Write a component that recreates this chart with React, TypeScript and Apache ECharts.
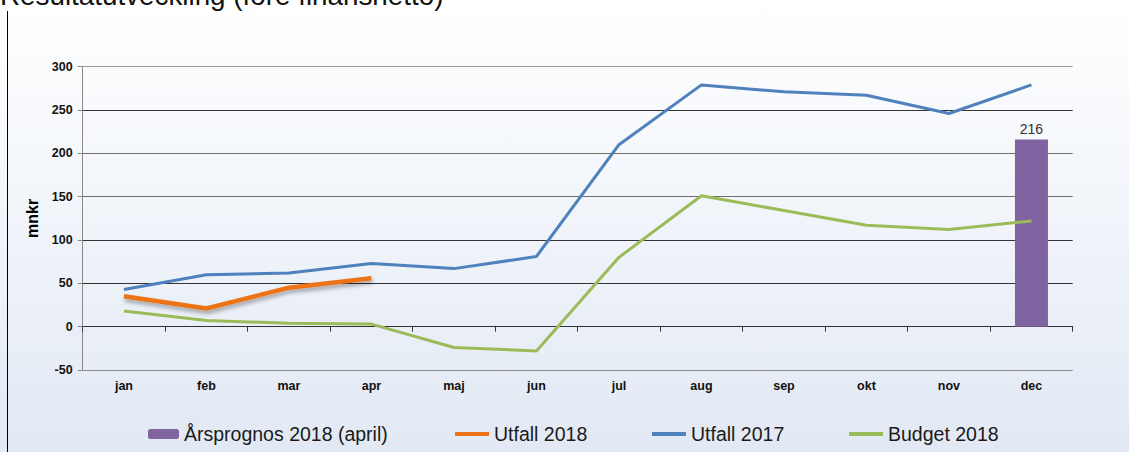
import React, { useEffect, useRef } from "react";
import * as echarts from "echarts";

const categories = ["jan", "feb", "mar", "apr", "maj", "jun", "jul", "aug", "sep", "okt", "nov", "dec"];
const prognos2018 = [null, null, null, null, null, null, null, null, null, null, null, 216];
const utfall2018 = [35, 21, 45, 56, null, null, null, null, null, null, null, null];
const utfall2017 = [43, 60, 62, 73, 67, 81, 210, 279, 271, 267, 246, 279];
const budget2018 = [18, 7, 4, 3, -24, -28, 80, 151, 134, 117, 112, 122];
const yTicks = { min: -50, max: 300, interval: 50 };

const NAMES = ["Årsprognos 2018 (april)", "Utfall 2018", "Utfall 2017", "Budget 2018"];
const COLORS = ["#8064a2", "#ec7317", "#4f81bd", "#9bbb59"];
const FONT = "'Liberation Sans', Arial, sans-serif";

export default function App() {
  const ref = useRef<HTMLDivElement>(null);
  useEffect(() => {
    document.body.style.margin = "0";
    const chart = echarts.init(ref.current!, null, { renderer: "svg" });
    const legendBase = {
      orient: "horizontal",
      top: 424,
      padding: 0,
      textStyle: { fontFamily: FONT, fontSize: 19.5, color: "#1a1a1a" },
    };
    chart.setOption({
      animation: false,
      backgroundColor: {
        type: "linear",
        x: 0,
        y: 0,
        x2: 0,
        y2: 1,
        colorStops: [
          { offset: 0, color: "#ffffff" },
          { offset: 1, color: "#e2e9f4" },
        ],
      },
      textStyle: { fontFamily: FONT },
      graphic: [
        {
          type: "text",
          left: 0,
          y: -5,
          style: {
            text: "Resultatutveckling (före finansnetto)",
            font: `27.8px ${FONT}`,
            fill: "#111",
            textVerticalAlign: "middle",
          },
        },
        {
          type: "line",
          shape: { x1: 7.5, y1: 11, x2: 7.5, y2: 452 },
          style: { stroke: "#000", lineWidth: 1 },
        },
      ],
      legend: [
        { ...legendBase, left: 148, data: [NAMES[0]], itemWidth: 31, itemHeight: 10 },
        { ...legendBase, left: 455, data: [NAMES[1]], icon: "rect", itemWidth: 34, itemHeight: 4 },
        { ...legendBase, left: 652, data: [NAMES[2]], icon: "rect", itemWidth: 34, itemHeight: 4 },
        { ...legendBase, left: 849, data: [NAMES[3]], icon: "rect", itemWidth: 34, itemHeight: 4 },
      ],
      grid: { left: 82.7, right: 56.3, top: 66.7, bottom: 82 },
      xAxis: {
        type: "category",
        data: categories,
        boundaryGap: true,
        axisLine: { show: true, onZero: true, lineStyle: { color: "#333", width: 1 } },
        axisTick: { show: true, length: 5, lineStyle: { color: "#333" } },
        axisLabel: {
          margin: 9,
          fontFamily: FONT,
          fontSize: 12.5,
          fontWeight: "bold",
          color: "#111",
        },
        splitLine: { show: false },
      },
      yAxis: {
        type: "value",
        min: yTicks.min,
        max: yTicks.max,
        interval: yTicks.interval,
        name: "mnkr",
        nameLocation: "middle",
        nameGap: 38,
        nameTextStyle: { fontFamily: FONT, fontSize: 16, fontWeight: "bold", color: "#000" },
        axisLine: { show: true, lineStyle: { color: "#888", width: 1 } },
        axisTick: { show: true, length: 5, lineStyle: { color: "#888" } },
        axisLabel: { margin: 10, fontFamily: FONT, fontSize: 12.5, fontWeight: "bold", color: "#111" },
        splitLine: {
          show: true,
          lineStyle: {
            color: ["#8a8a8a", "#333", "#333", "#333", "#6e6e6e", "#6e6e6e", "#333", "#9a9a9a"],
            width: 1,
          },
        },
      },
      series: [
        {
          name: NAMES[0],
          type: "bar",
          data: prognos2018,
          barWidth: 33,
          itemStyle: { color: COLORS[0] },
          label: {
            show: true,
            position: "top",
            distance: 3,
            fontFamily: FONT,
            fontSize: 14,
            color: "#333",
          },
          z: 1,
        },
        {
          name: NAMES[3],
          type: "line",
          data: budget2018,
          symbol: "none",
          lineStyle: { color: COLORS[3], width: 3 },
          itemStyle: { color: COLORS[3] },
          z: 2,
        },
        {
          name: NAMES[2],
          type: "line",
          data: utfall2017,
          symbol: "none",
          lineStyle: { color: COLORS[2], width: 3 },
          itemStyle: { color: COLORS[2] },
          z: 3,
        },
        {
          name: NAMES[1],
          type: "line",
          data: utfall2018,
          symbol: "none",
          lineStyle: {
            color: COLORS[1],
            width: 4.5,
            shadowColor: "rgba(0,0,0,0.35)",
            shadowBlur: 4,
            shadowOffsetX: 1,
            shadowOffsetY: 3,
          },
          itemStyle: { color: COLORS[1] },
          z: 4,
        },
      ],
    });
    return () => chart.dispose();
  }, []);
  return <div ref={ref} style={{ width: 1129, height: 452 }} />;
}
